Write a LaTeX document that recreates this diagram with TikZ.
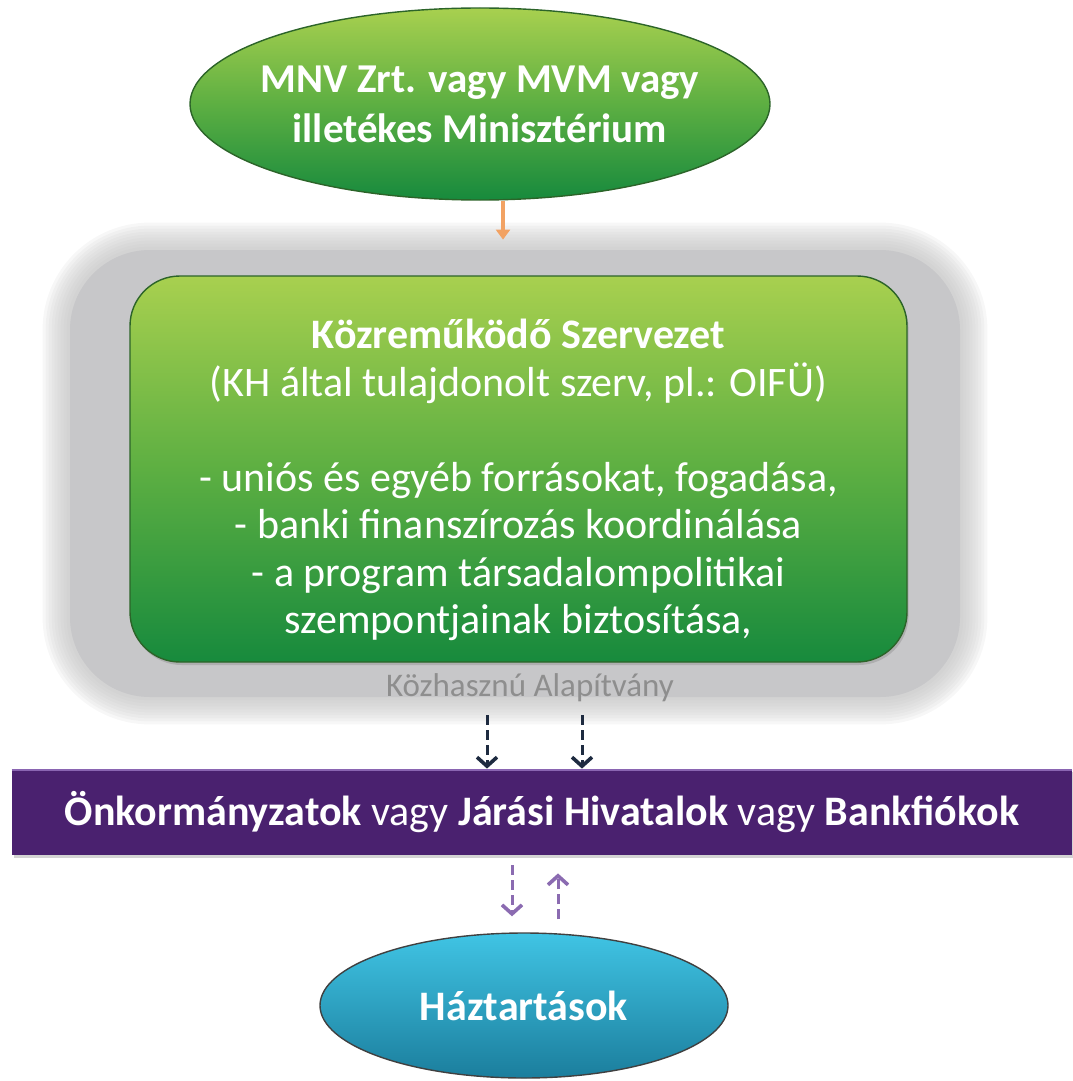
\documentclass[tikz,border=0pt]{standalone}
\usepackage{fontspec}
\setmainfont{Carlito}
\usetikzlibrary{shapes.geometric,arrows.meta,shadows,backgrounds}

\definecolor{kslime}{HTML}{A8D04F}
\definecolor{ksmid}{HTML}{5DAF42}
\definecolor{ksdark}{HTML}{178A3D}
\definecolor{ksedge}{HTML}{2C6429}
\definecolor{alapgray}{HTML}{C7C7C9}
\definecolor{alaptext}{HTML}{8E8E8E}
\definecolor{barpurple}{HTML}{4A216F}
\definecolor{barlight}{HTML}{8A65B2}
\definecolor{hhtop}{HTML}{40C4E4}
\definecolor{hhbot}{HTML}{1B7E9D}
\definecolor{navyarrow}{HTML}{1E2B40}
\definecolor{lilacarrow}{HTML}{8B6BB1}
\definecolor{orangearrow}{HTML}{F2A263}

\begin{document}
\begin{tikzpicture}[x=0.5pt,y=-0.5pt,
    bigtext/.style={text=white, align=center, font=\fontsize{21}{23.75}\selectfont},
    greenoval/.style={ellipse, draw=ksedge, line width=0.7pt, top color=kslime, bottom color=ksdark, middle color=ksmid},
    greenbox/.style={rectangle, rounded corners=25pt, draw=ksedge, line width=0.7pt, top color=kslime, bottom color=ksdark, middle color=ksmid,
        drop shadow={opacity=0.35, shadow xshift=0.8pt, shadow yshift=-1.5pt}},
    dashedarrow/.style={dashed, dash pattern=on 5pt off 2.5pt, line width=1.5pt, -{Straight Barb[length=4.5pt, width=10pt, line width=1.8pt]}}
  ]
    \useasboundingbox (0,0) rectangle (1072,1081);

    \node[greenoval, minimum width=290pt, minimum height=96pt] (ministry) at (480,104) {};
    \node[bigtext, font=\bfseries\fontsize{20.5}{25}\selectfont] (ministrytext) at (ministry) {MNV Zrt. vagy MVM vagy\\illetékes Minisztérium};

    \node[rectangle, rounded corners=40pt, fill=alapgray, minimum width=445pt, minimum height=223.5pt] (alapitvany) at (515,473.5) {};
    \begin{scope}[on background layer]
        \foreach \g in {27,24,...,3}
            \fill[black!25, opacity=0.12, rounded corners=40pt+\g*0.5pt] ([shift={(-\g,-\g)}]alapitvany.north west) rectangle ([shift={(\g,\g)}]alapitvany.south east);
    \end{scope}

    \node[greenbox, minimum width=388.5pt, minimum height=193pt] (kozremukodo) at (518.5,469) {};
    \node[bigtext] (kozremukodotext) at (518.5,480) {\textbf{Közreműködő Szervezet}\\(KH által tulajdonolt szerv, pl.: OIFÜ)\\[23.75pt]- uniós és egyéb forrásokat, fogadása,\\- banki finanszírozás koordinálása\\- a program társadalompolitikai\\szempontjainak biztosítása,};
    \node[text=alaptext, font=\fontsize{16.5}{19}\selectfont] (kozhasznu) at (530,688) {Közhasznú Alapítvány};

    \node[bigtext, rectangle, fill=barpurple, minimum width=530pt, minimum height=43pt, inner sep=0pt,
        drop shadow={opacity=0.35, shadow xshift=0.8pt, shadow yshift=-1.5pt}] (onkorm) at (542,812)
        {\textbf{Önkormányzatok} vagy \textbf{Járási Hivatalok} vagy \textbf{Bankfiókok}};
    \draw[barlight, line width=1.2pt] ([yshift=-0.6pt]onkorm.north west) -- ([yshift=-0.6pt]onkorm.north east);

    \node[bigtext, ellipse, draw=black!75, line width=0.7pt, top color=hhtop, bottom color=hhbot, minimum width=204pt, minimum height=72.5pt,
        font=\bfseries\fontsize{21}{23.75}\selectfont] (haztartas) at (524,1005.5) {Háztartások};

    \draw[orangearrow, line width=1.6pt, -{Triangle[length=5pt, width=7pt]}, shorten >=5pt] (ministry.south -| 503,0) -- (alapitvany.north -| 503,0);
    \draw[navyarrow, dashedarrow, shorten <=9pt] (alapitvany.south -| 487,0) -- (onkorm.north -| 487,0);
    \draw[navyarrow, dashedarrow, shorten <=9pt] (alapitvany.south -| 582,0) -- (onkorm.north -| 582,0);
    \draw[lilacarrow, dashedarrow, shorten <=5pt, shorten >=8pt] (onkorm.south -| 512,0) -- (haztartas.north -| 512,0);
    \draw[lilacarrow, dashedarrow, shorten <=6.5pt, shorten >=9pt] (haztartas.north -| 558,0) -- (onkorm.south -| 558,0);
\end{tikzpicture}
\end{document}
